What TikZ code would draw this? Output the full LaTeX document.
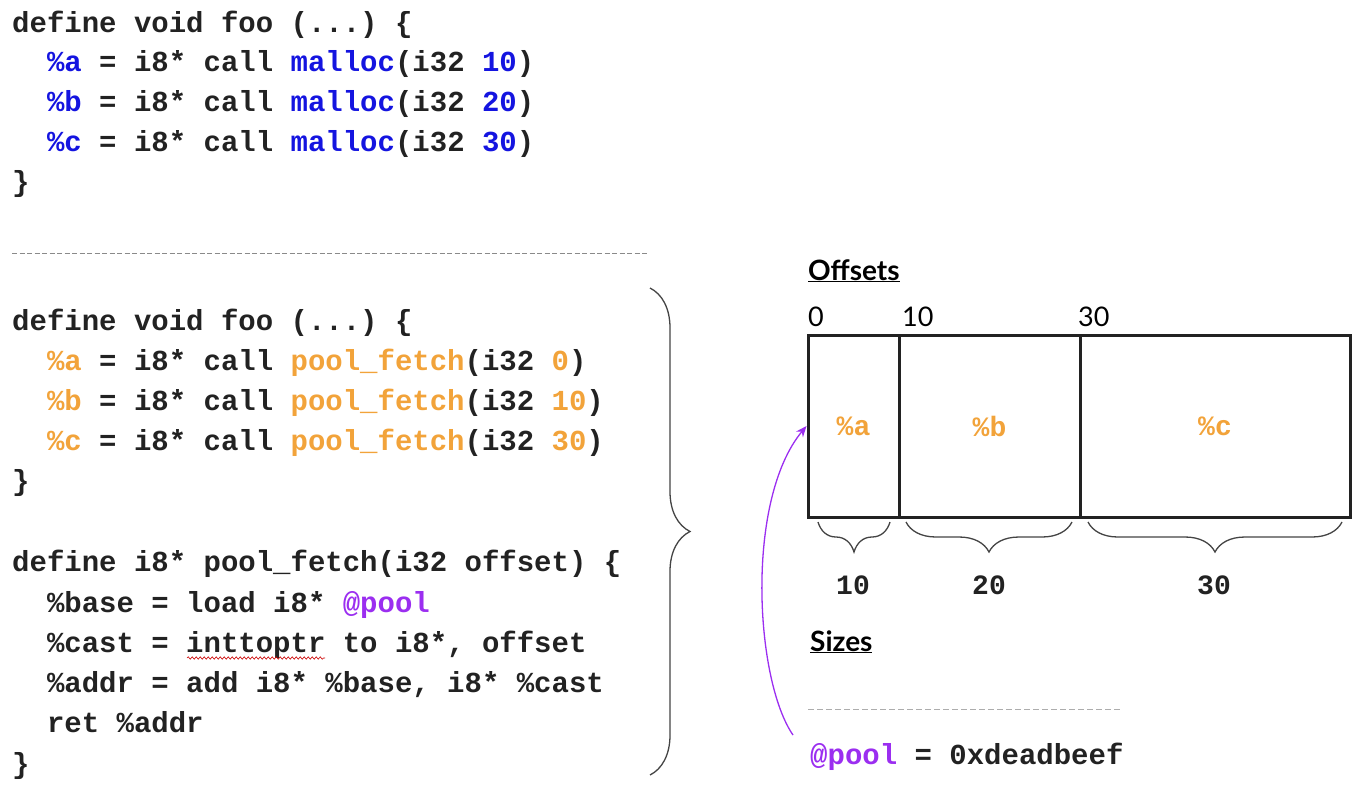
\documentclass[tikz,border=0pt]{standalone}
\usepackage{fontspec}
\setmainfont{Lato}
\setmonofont{Liberation Mono}
\usetikzlibrary{decorations.pathreplacing,decorations.pathmorphing,arrows.meta}
\definecolor{ink}{HTML}{222222}
\definecolor{codeblue}{HTML}{1414E0}
\definecolor{codeorange}{HTML}{F2A33A}
\definecolor{codepurple}{HTML}{9B2EF0}
\definecolor{rulegray}{HTML}{8A8A8A}
\definecolor{bracegray}{HTML}{444444}
\newcommand\bl[1]{\textcolor{codeblue}{#1}}
\newcommand\og[1]{\textcolor{codeorange}{#1}}
\newcommand\pu[1]{\textcolor{codepurple}{#1}}
\begin{document}
\begin{tikzpicture}[x=1pt,y=-1pt,
  code/.style={anchor=base west,inner sep=0,font=\fontsize{29}{40}\selectfont\ttfamily\bfseries,text=ink},
  cell/.style={draw=ink,line width=3pt,minimum height=182pt,inner sep=0,font=\fontsize{28}{30}\selectfont\ttfamily\bfseries,text=codeorange},
  sizelab/.style={inner sep=0,font=\fontsize{28}{30}\selectfont\ttfamily\bfseries,text=ink},
  offlab/.style={anchor=base west,inner sep=0,font=\fontsize{27}{30}\selectfont,text=black},
  heading/.style={anchor=base west,inner sep=0,font=\fontsize{28}{30}\selectfont\bfseries,text=black},
  bracestyle/.style={draw=bracegray,line width=1.3pt,decorate},
  sep/.style={draw=rulegray,line width=1pt,dash pattern=on 5pt off 2.5pt}]
\useasboundingbox (0,0) rectangle (1362,788);

% block 1
\node[code] (l1) at (12,32) {define void foo (...) \{};
\node[code] (l2) at (46.8,71) {\bl{\%a} = i8* call \bl{malloc}(i32 \bl{10})};
\node[code] (l3) at (46.8,111) {\bl{\%b} = i8* call \bl{malloc}(i32 \bl{20})};
\node[code] (l4) at (46.8,151) {\bl{\%c} = i8* call \bl{malloc}(i32 \bl{30})};
\node[code] (l5) at (12,191) {\}};

\draw[sep] (12,253) -- (648,253);

% block 2
\node[code] (m1) at (12,330) {define void foo (...) \{};
\node[code] (m2) at (46.8,370) {\og{\%a} = i8* call \og{pool\_fetch}(i32 \og{0})};
\node[code] (m3) at (46.8,410) {\og{\%b} = i8* call \og{pool\_fetch}(i32 \og{10})};
\node[code] (m4) at (46.8,450) {\og{\%c} = i8* call \og{pool\_fetch}(i32 \og{30})};
\node[code] (m5) at (12,490) {\}};

% block 3
\node[code] (n1) at (12,571) {define i8* pool\_fetch(i32 offset) \{};
\node[code] (n2) at (46.8,612) {\%base = load i8* \pu{@pool}};
\node[code] (n3) at (46.8,652) {\%cast = inttoptr to i8*, offset};
\node[code] (n4) at (46.8,692) {\%addr = add i8* \%base, i8* \%cast};
\node[code] (n5) at (46.8,732) {ret \%addr};
\node[code] (n6) at (12,773) {\}};
\draw[red!80!black,line width=0.6pt,decorate,decoration={snake,amplitude=1.2pt,segment length=4pt}] (187,658) -- (325,658);

% big brace
\draw[bracestyle,decoration={brace,amplitude=40pt}] (650,288) -- (650,775);

% right diagram
\node[heading] (offsets) at (808,280) {\underline{Offsets}};
\node[offlab] (o0) at (808,326) {0};
\node[offlab] (o10) at (902,326) {10};
\node[offlab] (o30) at (1078,326) {30};

\node[cell,minimum width=91pt] (ca) at (853.5,426) {\%a};
\node[cell,minimum width=181pt] (cb) at (989.5,426) {\%b};
\node[cell,minimum width=270pt] (cc) at (1215,426) {\%c};

\draw[bracestyle,decoration={brace,amplitude=30pt,mirror}] (818,522) -- (890,522);
\draw[bracestyle,decoration={brace,amplitude=30pt,mirror}] (906,522) -- (1072,522);
\draw[bracestyle,decoration={brace,amplitude=30pt,mirror}] (1088,522) -- (1342,522);
\node[sizelab] (s10) at (853,585) {10};
\node[sizelab] (s20) at (989,585) {20};
\node[sizelab] (s30) at (1214,585) {30};

\node[heading] (sizes) at (810,651) {\underline{Sizes}};
\draw[sep,draw=rulegray!70,dash pattern=on 6pt off 3pt] (808,709) -- (1122,709);

\node[code] (poolline) at (810,764) {\pu{@pool} = 0xdeadbeef};

\coordinate (arrstart) at (793,735);
\draw[codepurple,line width=1.3pt,-{Stealth[length=11pt,width=9pt]}] (arrstart) .. controls (755,680) and (745,500) .. (ca.west);
\end{tikzpicture}
\end{document}
